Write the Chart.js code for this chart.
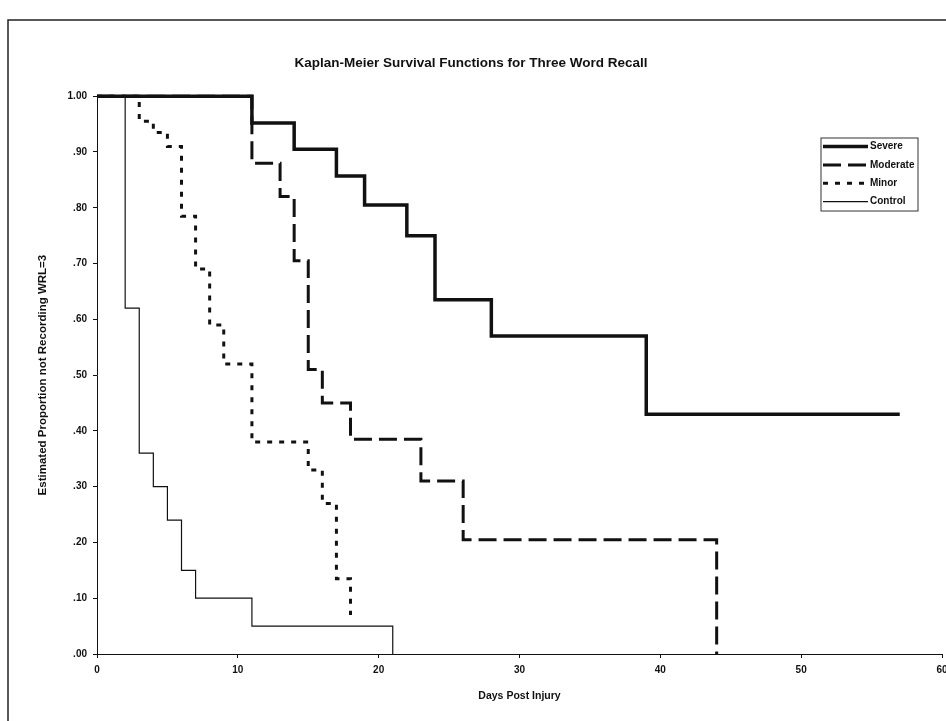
<!DOCTYPE html>
<html>
<head>
<meta charset="utf-8">
<title>Kaplan-Meier Survival Functions for Three Word Recall</title>
<script src="https://cdn.jsdelivr.net/npm/chart.js@4.4.1/dist/chart.umd.min.js"></script>
<style>
  html, body { margin: 0; padding: 0; background: #fff; overflow: hidden; }
  #wrap { width: 946px; height: 721px; overflow: hidden; }
</style>
</head>
<body>
<div id="wrap"><canvas id="km" width="960" height="721"></canvas></div>
<script>
// KM step data: day of each event and the survival estimate from that day on
const seriesNames = ["Severe", "Moderate", "Minor", "Control"];

const severeDays = [0, 11, 14, 17, 19, 22, 24, 28, 39, 57];
const severeSurv = [1.00, 0.952, 0.905, 0.857, 0.805, 0.75, 0.635, 0.57, 0.43, 0.43];

const moderateDays = [0, 11, 13, 14, 15, 16, 18, 23, 26, 44];
const moderateSurv = [1.00, 0.88, 0.82, 0.705, 0.51, 0.45, 0.385, 0.31, 0.205, 0];

const minorDays = [0, 3, 4, 5, 6, 7, 8, 9, 11, 15, 16, 17, 18];
const minorSurv = [1.00, 0.955, 0.935, 0.91, 0.785, 0.69, 0.59, 0.52, 0.38, 0.33, 0.27, 0.135, 0.07];

const controlDays = [0, 2, 3, 4, 5, 6, 7, 11, 21];
const controlSurv = [1.00, 0.62, 0.36, 0.30, 0.24, 0.15, 0.10, 0.05, 0];

const xTicks = [0, 10, 20, 30, 40, 50, 60];
const yTicks = [0, 0.1, 0.2, 0.3, 0.4, 0.5, 0.6, 0.7, 0.8, 0.9, 1.0];

const FONT = "'Liberation Sans', Arial, sans-serif";
Chart.defaults.font.family = FONT;
Chart.defaults.color = "#111";

function pts(days, surv) {
  return days.map((d, i) => ({ x: d, y: surv[i] }));
}

const styles = [
  { borderWidth: 3.5, borderDash: [] },
  { borderWidth: 3, borderDash: [18, 7] },
  { borderWidth: 3, borderDash: [5, 7] },
  { borderWidth: 1.2, borderDash: [] },
];
const allData = [
  pts(severeDays, severeSurv),
  pts(moderateDays, moderateSurv),
  pts(minorDays, minorSurv),
  pts(controlDays, controlSurv),
];

const datasets = seriesNames.map((name, i) => ({
  label: name,
  data: allData[i],
  stepped: "before",
  borderColor: "#111",
  backgroundColor: "#111",
  borderWidth: styles[i].borderWidth,
  borderDash: styles[i].borderDash,
  borderCapStyle: "butt",
  pointRadius: 0,
  fill: false,
  clip: 10,
}));

// frame round the figure and the boxed legend inside the plot
const framePlugin = {
  id: "frame",
  beforeDraw(chart) {
    const ctx = chart.ctx;
    ctx.save();
    ctx.fillStyle = "#fff";
    ctx.fillRect(0, 0, chart.width, chart.height);
    ctx.strokeStyle = "#222";
    ctx.lineWidth = 1.5;
    ctx.strokeRect(8, 20, chart.width + 20, chart.height + 20);
    ctx.restore();
  },
};

const legendPlugin = {
  id: "boxLegend",
  afterDatasetsDraw(chart) {
    const ctx = chart.ctx;
    const bx = 821, by = 138, bw = 97, bh = 73;
    ctx.save();
    ctx.strokeStyle = "#333";
    ctx.lineWidth = 1;
    ctx.strokeRect(bx, by, bw, bh);
    chart.data.datasets.forEach((ds, i) => {
      const y = 146.5 + i * 18.4;
      ctx.beginPath();
      ctx.setLineDash(ds.borderDash);
      ctx.lineWidth = ds.borderWidth;
      ctx.strokeStyle = ds.borderColor;
      ctx.moveTo(bx + 2, y);
      ctx.lineTo(bx + 47, y);
      ctx.stroke();
      ctx.setLineDash([]);
      ctx.fillStyle = "#111";
      ctx.font = "bold 10px " + FONT;
      ctx.textBaseline = "middle";
      ctx.fillText(ds.label, bx + 49, y);
    });
    ctx.restore();
  },
};

const config = {
  type: "line",
  data: { datasets: datasets },
  plugins: [framePlugin, legendPlugin],
  options: {
    responsive: false,
    animation: false,
    events: [],
    layout: { padding: { left: 0, right: 18, top: 0, bottom: 0 } },
    plugins: {
      legend: { display: false },
      tooltip: { enabled: false },
      title: {
        display: true,
        text: "Kaplan-Meier Survival Functions for Three Word Recall",
        font: { size: 13.5, weight: "bold" },
        color: "#111",
        padding: { top: 55, bottom: 25 },
      },
    },
    scales: {
      x: {
        type: "linear",
        min: 0,
        max: 60,
        afterFit(scale) { scale.height = 67; },
        afterBuildTicks(scale) { scale.ticks = xTicks.map(v => ({ value: v })); },
        ticks: { font: { size: 10, weight: "bold" }, padding: 6, maxRotation: 0 },
        grid: { drawOnChartArea: false, tickLength: 4, color: "#111" },
        border: { display: true, color: "#111", width: 1 },
        title: {
          display: true,
          text: "Days Post Injury",
          font: { size: 10.5, weight: "bold" },
          padding: { top: 0, bottom: 19 },
        },
      },
      y: {
        type: "linear",
        min: 0,
        max: 1,
        afterFit(scale) { scale.width = 97; },
        afterBuildTicks(scale) { scale.ticks = yTicks.map(v => ({ value: v })); },
        ticks: {
          font: { size: 10, weight: "bold" },
          padding: 6,
          callback: v => v.toFixed(2).replace(/^0/, ""),
        },
        grid: { drawOnChartArea: false, tickLength: 4, color: "#111" },
        border: { display: true, color: "#111", width: 1 },
        title: {
          display: true,
          text: "Estimated Proportion not Recording WRL=3",
          font: { size: 11.5, weight: "bold" },
          padding: { top: 36, bottom: 0 },
        },
      },
    },
  },
};

new Chart(document.getElementById("km"), config);
</script>
</body>
</html>
